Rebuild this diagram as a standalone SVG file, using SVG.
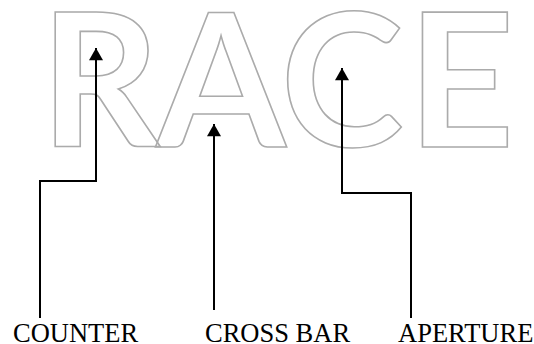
<svg xmlns="http://www.w3.org/2000/svg" width="534" height="344" viewBox="0 0 534 344">
<style>
.let{font-family:Lato,"Liberation Sans",sans-serif;font-weight:700;font-size:186px;fill:none;stroke:#ababab;stroke-width:1.6;text-anchor:middle}
.lbl{font-family:"Liberation Serif","Times New Roman",serif;font-size:26.5px;fill:#000}
.con{fill:none;stroke:#000;stroke-width:2;marker-end:url(#ah)}
</style>
<defs>
<marker id="ah" markerUnits="userSpaceOnUse" markerWidth="16" markerHeight="14" refX="14" refY="8" orient="auto" viewBox="0 0 14 16">
<path d="M0,0 L14,8 L0,16 Z" fill="#000"/>
</marker>
</defs>
<rect width="534" height="344" fill="#fff"/>
<g id="word">
<text class="let" x="100" y="147">R</text>
<text class="let" x="221" y="147">A</text>
<text class="let" x="342" y="147">C</text>
<text class="let" x="461" y="147">E</text>
</g>
<g id="connectors">
<polyline class="con" points="40,318 40,181 96,181 96,48"/>
<polyline class="con" points="214,310 214,124"/>
<polyline class="con" points="411,318 411,193 342,193 342,68"/>
</g>
<g id="counter"><text class="lbl" x="13" y="342">COUNTER</text></g>
<g id="crossbar"><text class="lbl" x="205" y="342">CROSS BAR</text></g>
<g id="aperture"><text class="lbl" x="398" y="342">APERTURE</text></g>
</svg>
